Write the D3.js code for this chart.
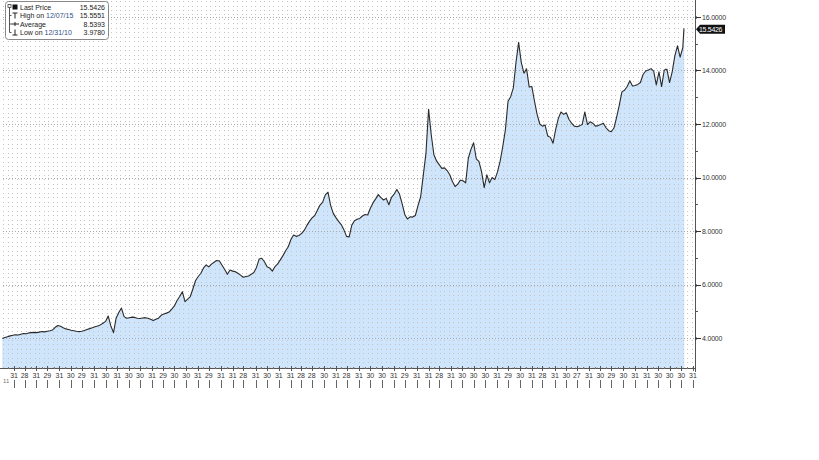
<!DOCTYPE html>
<html>
<head>
<meta charset="utf-8">
<script src="https://cdn.jsdelivr.net/npm/d3@7"></script>
<style>
body { margin: 0; background: #fff; }
svg { display: block; font-family: "Liberation Sans", Arial, sans-serif; }
</style>
</head>
<body>
<svg id="chart" width="819" height="460"></svg>
<script>

// weekly closes, first one on startDate, one every 7 days
var startDate = "2010-12-31";
var weeklyPrices = [
    3.98, 4.02, 4.05, 4.08, 4.10, 4.12, 4.11, 4.14, 4.17, 4.16,
    4.19, 4.20, 4.21, 4.20, 4.22, 4.24, 4.23, 4.25, 4.27, 4.30,
    4.40, 4.47, 4.44, 4.38, 4.34, 4.32, 4.29, 4.27, 4.25, 4.24,
    4.25, 4.28, 4.32, 4.35, 4.38, 4.42, 4.45, 4.49, 4.55, 4.62,
    4.82, 4.45, 4.20, 4.75, 4.95, 5.12, 4.80, 4.74, 4.76, 4.78,
    4.77, 4.74, 4.73, 4.75, 4.76, 4.74, 4.70, 4.65, 4.70, 4.74,
    4.85, 4.90, 4.93, 4.97, 5.08, 5.20, 5.40, 5.55, 5.73, 5.36,
    5.45, 5.55, 5.84, 6.15, 6.30, 6.42, 6.62, 6.73, 6.66, 6.76,
    6.83, 6.90, 6.88, 6.72, 6.56, 6.38, 6.54, 6.50, 6.48, 6.42,
    6.35, 6.27, 6.30, 6.32, 6.38, 6.45, 6.64, 6.95, 6.98, 6.85,
    6.66, 6.62, 6.50, 6.67, 6.77, 6.92, 7.08, 7.26, 7.41, 7.68,
    7.85, 7.80, 7.83, 7.90, 8.02, 8.20, 8.36, 8.49, 8.58, 8.78,
    8.97, 9.08, 9.35, 9.45, 8.96, 8.66, 8.50, 8.36, 8.24, 8.05,
    7.80, 7.78, 8.22, 8.38, 8.44, 8.47, 8.56, 8.62, 8.60, 8.85,
    9.05, 9.20, 9.36, 9.25, 9.16, 9.22, 8.98, 9.26, 9.38, 9.55,
    9.38, 9.02, 8.62, 8.45, 8.53, 8.52, 8.58, 8.95, 9.28, 10.09,
    10.90, 12.55, 11.60, 10.85, 10.62, 10.48, 10.34, 10.36, 10.26, 10.10,
    9.85, 9.66, 9.75, 9.90, 9.88, 9.80, 10.72, 11.05, 11.30, 10.70,
    10.60, 10.22, 9.62, 10.10, 9.80, 10.00, 9.92, 10.20, 10.60, 11.15,
    11.78, 12.85, 13.02, 13.35, 14.30, 15.05, 14.30, 13.90, 14.06, 13.38,
    13.40, 12.85, 12.35, 12.00, 11.92, 11.96, 11.55, 11.50, 11.28, 11.80,
    12.21, 12.45, 12.36, 12.42, 12.18, 12.03, 11.92, 11.90, 11.93, 11.98,
    12.45, 11.98, 12.08, 12.03, 11.92, 11.94, 11.98, 12.03, 11.86, 11.75,
    11.71, 11.85, 12.25, 12.70, 13.20, 13.26, 13.40, 13.62, 13.42, 13.44,
    13.48, 13.55, 13.85, 13.98, 14.02, 14.07, 13.98, 13.46, 13.95, 13.40,
    14.02, 14.05, 13.55, 13.95, 14.55, 14.92, 14.50, 14.85
];
var lastDates = ["2015-12-07", "2015-12-08"];
var lastPrices = [15.5551, 15.5426];

var yTicks = [4, 6, 8, 10, 12, 14, 16];
var yMinorTicks = [5, 7, 9, 11, 13, 15];

// last trading day of each month (bottom axis)
var tickDates = [
    "2011-01-31", "2011-02-28", "2011-03-31", "2011-04-29", "2011-05-31", "2011-06-30",
    "2011-07-29", "2011-08-31", "2011-09-30", "2011-10-31", "2011-11-30", "2011-12-30",
    "2012-01-31", "2012-02-29", "2012-03-30", "2012-04-30", "2012-05-31", "2012-06-29",
    "2012-07-31", "2012-08-31", "2012-09-28", "2012-10-31", "2012-11-30", "2012-12-31",
    "2013-01-31", "2013-02-28", "2013-03-28", "2013-04-30", "2013-05-31", "2013-06-28",
    "2013-07-31", "2013-08-30", "2013-09-30", "2013-10-31", "2013-11-29", "2013-12-31",
    "2014-01-31", "2014-02-28", "2014-03-31", "2014-04-30", "2014-05-30", "2014-06-30",
    "2014-07-31", "2014-08-29", "2014-09-30", "2014-10-31", "2014-11-28", "2014-12-31",
    "2015-01-30", "2015-02-27", "2015-03-31", "2015-04-30", "2015-05-29", "2015-06-30",
    "2015-07-31", "2015-08-31", "2015-09-30", "2015-10-30", "2015-11-30", "2015-12-31"
];
var yearLabel = "11";

var legendLabels = ["Last Price", "High on ", "Average", "Low on "];
var legendDates = ["", "12/07/15", "", "12/31/10"];
var legendValues = ["15.5426", "15.5551", "8.5393", "3.9780"];
var lastPriceLabel = "15.5426";

var parseDate = d3.timeParse("%Y-%m-%d");
var start = parseDate(startDate);

var data = weeklyPrices.map(function(v, i) {
    return {date: d3.timeDay.offset(start, 7 * i), value: v};
});
lastDates.forEach(function(d, i) {
    data.push({date: parseDate(d), value: lastPrices[i]});
});

var svg = d3.select("#chart");

var plotLeft = 3, plotRight = 695, plotTop = 0, plotBottom = 368;

var x = d3.scaleTime()
    .domain([start, parseDate("2015-12-31")])
    .range([2.3, 693]);

var y = d3.scaleLinear()
    .domain([4, 16])
    .range([338, 17]);

// filled area
var area = d3.area()
    .x(function(d) { return x(d.date); })
    .y0(plotBottom)
    .y1(function(d) { return y(d.value); });

svg.append("path")
    .datum(data)
    .attr("d", area)
    .attr("fill", "#cfe5fb");

// dotted background grid
var gridValues = d3.range(y.invert(plotBottom) + 0.05, y.invert(plotTop), 1 / 6);
svg.append("g")
    .selectAll("line")
    .data(gridValues)
    .join("line")
    .attr("x1", plotLeft)
    .attr("x2", plotRight)
    .attr("y1", function(d) { return Math.round(y(d)) + 0.5; })
    .attr("y2", function(d) { return Math.round(y(d)) + 0.5; })
    .attr("stroke", "#c4c4c4")
    .attr("stroke-dasharray", "1,3.5")
    .attr("shape-rendering", "crispEdges");

svg.append("g")
    .selectAll("line")
    .data(yTicks)
    .join("line")
    .attr("x1", plotLeft)
    .attr("x2", plotRight)
    .attr("y1", function(d) { return Math.round(y(d)) + 0.5; })
    .attr("y2", function(d) { return Math.round(y(d)) + 0.5; })
    .attr("stroke", "#a8a8a8")
    .attr("stroke-dasharray", "1,2")
    .attr("shape-rendering", "crispEdges");

// price line
var line = d3.line()
    .x(function(d) { return x(d.date); })
    .y(function(d) { return y(d.value); });

svg.append("path")
    .datum(data)
    .attr("d", line)
    .attr("fill", "none")
    .attr("stroke", "#2a2a2a")
    .attr("stroke-width", 1.1)
    .attr("stroke-linejoin", "round");

// right axis
svg.append("line")
    .attr("x1", plotRight + 0.5).attr("x2", plotRight + 0.5)
    .attr("y1", 0).attr("y2", plotBottom + 4)
    .attr("stroke", "#555");

var yAxis = svg.append("g");
yAxis.selectAll(".major")
    .data(yTicks)
    .join("path")
    .attr("d", function(d) {
        var yy = Math.round(y(d)) + 0.5;
        return "M" + (plotRight + 1) + "," + yy + "L" + (plotRight + 6) + "," + yy +
            "M" + (plotRight + 1) + "," + (yy - 1.5) + "L" + (plotRight + 1) + "," + (yy + 1.5);
    })
    .attr("stroke", "#333")
    .attr("fill", "none");

yAxis.selectAll(".minor")
    .data(yMinorTicks)
    .join("line")
    .attr("x1", plotRight)
    .attr("x2", plotRight + 3)
    .attr("y1", function(d) { return Math.round(y(d)) + 0.5; })
    .attr("y2", function(d) { return Math.round(y(d)) + 0.5; })
    .attr("stroke", "#555");

yAxis.selectAll("text")
    .data(yTicks)
    .join("text")
    .attr("x", plotRight + 7)
    .attr("y", function(d) { return y(d) + 2.5; })
    .attr("font-size", 7)
    .attr("letter-spacing", -0.2)
    .attr("fill", "#333")
    .text(function(d) { return d3.format(".4f")(d); });

// last price tag
var tagY = y(lastPrices[lastPrices.length - 1]);
svg.append("path")
    .attr("d", "M" + (plotRight + 1) + "," + tagY +
        "L" + (plotRight + 5) + "," + (tagY - 4.5) +
        "L" + (plotRight + 30) + "," + (tagY - 4.5) +
        "L" + (plotRight + 30) + "," + (tagY + 4.5) +
        "L" + (plotRight + 5) + "," + (tagY + 4.5) + "Z")
    .attr("fill", "#111");
svg.append("text")
    .attr("x", plotRight + 4)
    .attr("y", tagY + 2.5)
    .attr("font-size", 7)
    .attr("letter-spacing", -0.3)
    .attr("fill", "#fff")
    .text(lastPriceLabel);

// bottom axis
svg.append("line")
    .attr("x1", 0).attr("x2", plotRight + 1)
    .attr("y1", plotBottom + 0.5).attr("y2", plotBottom + 0.5)
    .attr("stroke", "#555");

var ticks = tickDates.map(parseDate);
var xAxis = svg.append("g");

xAxis.selectAll(".tick")
    .data(ticks)
    .join("line")
    .attr("x1", function(d) { return Math.round(x(d)) + 0.5; })
    .attr("x2", function(d) { return Math.round(x(d)) + 0.5; })
    .attr("y1", plotBottom - 2)
    .attr("y2", plotBottom + 3)
    .attr("stroke", "#555");

xAxis.selectAll(".mid")
    .data(ticks)
    .join("line")
    .attr("x1", function(d) { return Math.round(x(d3.timeDay.offset(d, -15))) + 0.5; })
    .attr("x2", function(d) { return Math.round(x(d3.timeDay.offset(d, -15))) + 0.5; })
    .attr("y1", plotBottom - 1)
    .attr("y2", plotBottom + 1)
    .attr("stroke", "#777");

xAxis.selectAll("text")
    .data(ticks)
    .join("text")
    .attr("x", function(d) { return x(d); })
    .attr("y", plotBottom + 10)
    .attr("text-anchor", "middle")
    .attr("font-size", 7)
    .attr("fill", "#333")
    .text(function(d) { return d.getDate(); });

xAxis.selectAll(".low")
    .data(ticks)
    .join("line")
    .attr("x1", function(d) { return Math.round(x(d)) + 0.5; })
    .attr("x2", function(d) { return Math.round(x(d)) + 0.5; })
    .attr("y1", plotBottom + 12)
    .attr("y2", plotBottom + 20)
    .attr("stroke", "#666");

svg.append("text")
    .attr("x", 3)
    .attr("y", plotBottom + 15)
    .attr("font-size", 6)
    .attr("fill", "#777")
    .text(yearLabel);

// legend box
var legend = svg.append("g");
legend.append("rect")
    .attr("x", 5.5).attr("y", 1.5)
    .attr("width", 103).attr("height", 38)
    .attr("rx", 3)
    .attr("fill", "#fff")
    .attr("stroke", "#888");

var rowY = [7, 15.5, 24, 32.5];

// connector on the left
legend.append("path")
    .attr("d", "M9.5," + rowY[0] + "L9.5," + rowY[3] +
        "M9.5," + rowY[1] + "L11.5," + rowY[1] +
        "M9.5," + rowY[2] + "L11.5," + rowY[2] +
        "M9.5," + rowY[3] + "L11.5," + rowY[3])
    .attr("stroke", "#555")
    .attr("fill", "none");
legend.append("rect")
    .attr("x", 8).attr("y", rowY[0] - 2.5)
    .attr("width", 3).attr("height", 3)
    .attr("fill", "#fff").attr("stroke", "#444").attr("stroke-width", 0.8);
legend.append("rect")
    .attr("x", 12.5).attr("y", rowY[0] - 2.5)
    .attr("width", 5).attr("height", 5)
    .attr("fill", "#111");
// high marker
legend.append("path")
    .attr("d", "M12.5," + (rowY[1] - 2.5) + "L17.5," + (rowY[1] - 2.5) +
        "M15," + (rowY[1] - 2.5) + "L15," + (rowY[1] + 3))
    .attr("stroke", "#222").attr("fill", "none");
// average marker
legend.append("path")
    .attr("d", "M11.5," + rowY[2] + "L19," + rowY[2] +
        "M15," + (rowY[2] - 2) + "L15," + (rowY[2] + 2))
    .attr("stroke", "#222").attr("fill", "none");
// low marker
legend.append("path")
    .attr("d", "M12.5," + (rowY[3] + 2.5) + "L17.5," + (rowY[3] + 2.5) +
        "M15," + (rowY[3] - 3) + "L15," + (rowY[3] + 2.5))
    .attr("stroke", "#222").attr("fill", "none");

var labels = legend.selectAll(".lbl")
    .data(legendLabels)
    .join("text")
    .attr("x", 20)
    .attr("y", function(d, i) { return rowY[i] + 2.5; })
    .attr("font-size", 7)
    .attr("fill", "#222");
labels.append("tspan").text(function(d) { return d; });
labels.append("tspan")
    .attr("fill", "#2f4f86")
    .text(function(d, i) { return legendDates[i]; });

legend.selectAll(".val")
    .data(legendValues)
    .join("text")
    .attr("x", 105)
    .attr("y", function(d, i) { return rowY[i] + 2.5; })
    .attr("text-anchor", "end")
    .attr("font-size", 7)
    .attr("fill", "#222")
    .text(function(d) { return d; });

</script>
</body>
</html>
